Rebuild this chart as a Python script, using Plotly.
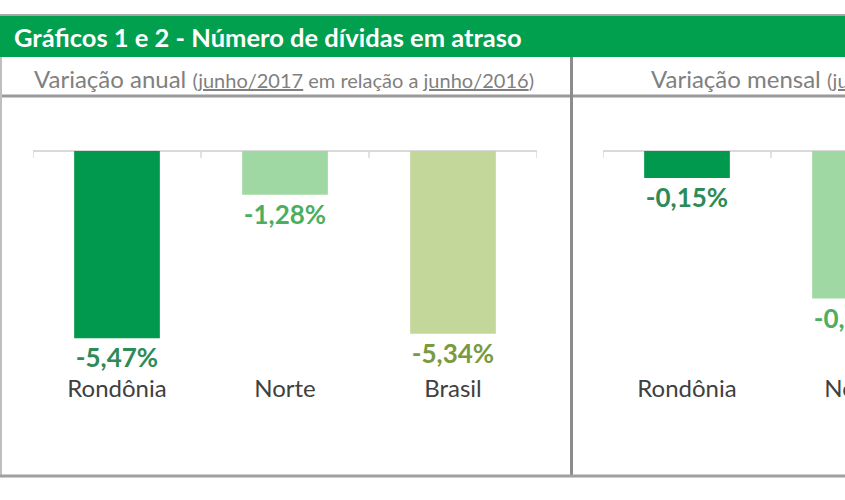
import plotly.graph_objects as go

# ---- data ----
regioes = ["Rondônia", "Norte", "Brasil"]
variacao_anual = [-5.47, -1.28, -5.34]          # % (junho/2017 vs junho/2016)
regioes_mensal = ["Rondônia", "Norte"]           # visible part of chart 2
variacao_mensal = [-0.15, -0.82]                 # % (visible part only)

cores_barras = ["#00994D", "#A0D8A3", "#C4D79B"]
cores_rotulos = ["#2E8B57", "#4DAE5F", "#7A9A3F"]

titulo = "Gráficos 1 e 2 - Número de dívidas em atraso"
sub_anual = ("Variação anual <span style='font-size:20px'>(<u>junho/2017</u> em relação a "
             "<u>junho/2016</u>)</span>")
sub_mensal = ("Variação mensal <span style='font-size:20px'>(<u>junho/2017</u> em relação a "
              "<u>maio/2017</u>)</span>")

W, H = 1110, 500
FONT = "Lato"


def X(px):
    return px / W


def Y(py):
    return 1 - py / H


fig = go.Figure()

fig.add_trace(go.Bar(
    x=regioes, y=variacao_anual, xaxis="x", yaxis="y",
    marker=dict(color=cores_barras, line=dict(width=0)),
    texttemplate="%{y:.2f}%", textposition="outside", cliponaxis=False,
    textfont=dict(color=cores_rotulos, size=26, family=FONT, weight="bold"),
    hoverinfo="skip", showlegend=False,
))
fig.add_trace(go.Bar(
    x=regioes_mensal, y=variacao_mensal, xaxis="x2", yaxis="y2",
    marker=dict(color=cores_barras[:len(variacao_mensal)], line=dict(width=0)),
    texttemplate="%{y:.2f}%", textposition="outside", cliponaxis=False,
    textfont=dict(color=cores_rotulos[:len(variacao_mensal)], size=26, family=FONT, weight="bold"),
    hoverinfo="skip", showlegend=False,
))

ydom = [Y(372), Y(151)]
cat_axis = dict(type="category", categoryorder="array", categoryarray=regioes,
                range=[-0.5, 2.5], showline=False, showgrid=False, zeroline=False,
                ticks="", tickfont=dict(size=24, color="#404040", family=FONT),
                fixedrange=True)
val_axis = dict(domain=ydom, showticklabels=False, ticks="", showgrid=False,
                showline=False, zeroline=True, zerolinecolor="#D9D9D9", zerolinewidth=1.5,
                fixedrange=True)

fig.update_layout(
    width=W, height=H,
    margin=dict(l=0, r=0, t=0, b=0),
    paper_bgcolor="white", plot_bgcolor="rgba(0,0,0,0)",
    separators=",.",
    bargap=0.49,
    font=dict(family=FONT),
    xaxis=dict(domain=[X(33), X(537)], anchor="y", **cat_axis),
    yaxis=dict(range=[-6.46, 0], **val_axis),
    xaxis2=dict(domain=[X(603), X(1107)], anchor="y2", **cat_axis),
    yaxis2=dict(range=[-1.228, 0], **val_axis),
)

# category-boundary tick marks on the zero axis
for xr, yr in (("x", "y"), ("x2", "y2")):
    for b in range(len(regioes) + 1):
        fig.add_shape(type="line", xref=xr, yref=yr, x0=b - 0.5, x1=b - 0.5,
                      ysizemode="pixel", yanchor=0, y0=0, y1=-7,
                      line=dict(color="#D9D9D9", width=1.5), layer="below")

# frame, header band and dividers
shapes = [
    dict(type="line", x0=0, x1=1, y0=Y(15), y1=Y(15), line=dict(color="#A6A6A6", width=2)),
    dict(type="rect", x0=0, x1=1, y0=Y(57), y1=Y(16), fillcolor="#00A04F", line=dict(width=0)),
    dict(type="line", x0=0, x1=1, y0=Y(96), y1=Y(96), line=dict(color="#9A9A9A", width=3)),
    dict(type="line", x0=X(1), x1=X(1), y0=Y(57), y1=Y(476), line=dict(color="#BFBFBF", width=2)),
    dict(type="line", x0=X(571.5), x1=X(571.5), y0=Y(57), y1=Y(476), line=dict(color="#8C8C8C", width=3)),
    dict(type="line", x0=0, x1=1, y0=Y(476), y1=Y(476), line=dict(color="#A0A0A0", width=3)),
]
for s in shapes:
    fig.add_shape(xref="paper", yref="paper", layer="below", **s)

fig.add_annotation(xref="paper", yref="paper", x=X(12), y=Y(37), xanchor="left", yanchor="middle",
                   text=titulo, showarrow=False,
                   font=dict(color="white", size=25.5, family=FONT, weight="bold"))
fig.add_annotation(xref="paper", yref="paper", x=X(284), y=Y(78), xanchor="center", yanchor="middle",
                   text=sub_anual, showarrow=False,
                   font=dict(color="#808080", size=24, family=FONT))
fig.add_annotation(xref="paper", yref="paper", x=X(649), y=Y(78), xanchor="left", yanchor="middle",
                   text=sub_mensal, showarrow=False,
                   font=dict(color="#808080", size=24, family=FONT))

fig.write_html("out.html",
               post_script="document.body.style.margin='0';document.body.style.overflow='hidden';")
